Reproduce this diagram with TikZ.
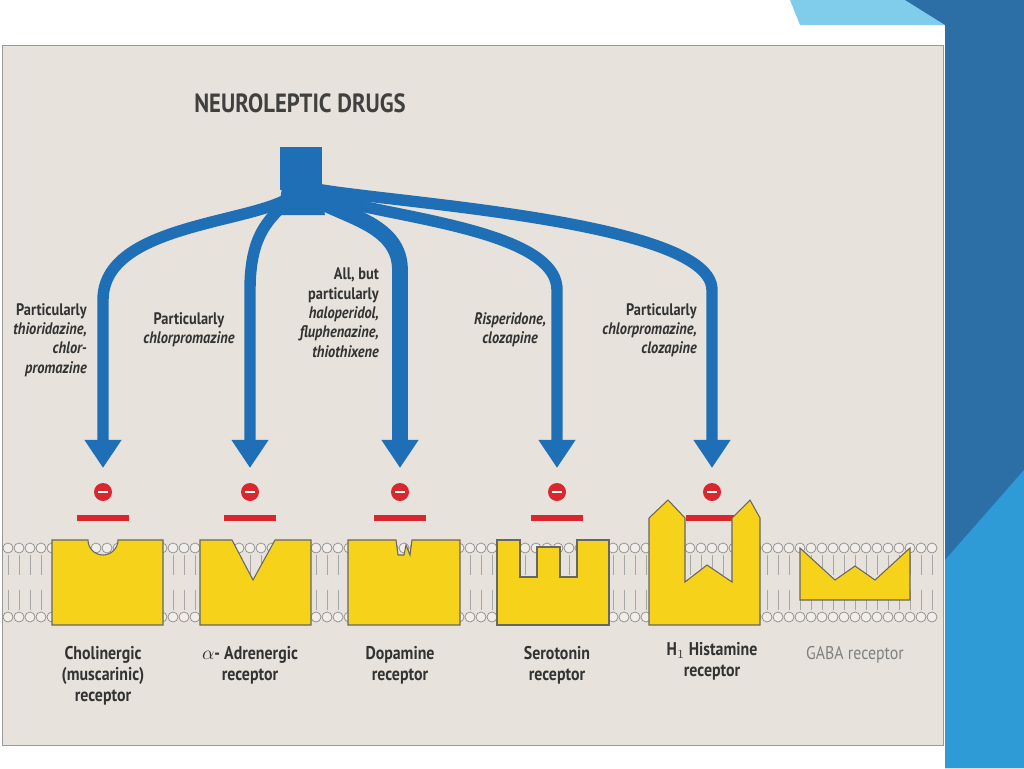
\documentclass[tikz,border=0pt]{standalone}
\usepackage{fontspec}
\setmainfont{PT Sans}[FakeStretch=0.86]
\usetikzlibrary{arrows.meta}
\definecolor{panel}{HTML}{E7E3DC}
\definecolor{drugblue}{HTML}{1E6FB5}
\definecolor{recyellow}{HTML}{F6D21A}
\definecolor{blockred}{HTML}{D8272E}
\definecolor{slidedark}{HTML}{2C6EA6}
\definecolor{slidelight}{HTML}{7FCDEB}
\definecolor{slidemid}{HTML}{2E9BD6}
\tikzset{
  branch/.style={drugblue, line width=6.5pt, -{Triangle[width=20pt,length=16pt]}},
  receptor/.style={fill=recyellow, draw=black!60, line width=0.6pt},
  druglabel/.style={font=\fontsize{9.5}{11}\selectfont\bfseries, text=black!80},
  reclabel/.style={font=\fontsize{10.5}{12}\selectfont\bfseries, text=black!80, align=center}
}
\begin{document}
\begin{tikzpicture}[x=0.02cm, y=-0.02cm]
    \useasboundingbox (0,0) rectangle (1024,768);
    \fill[white] (0,0) rectangle (1024,768);

    % slide decoration
    \fill[slidelight] (790,0) -- (905,0) -- (945,25) -- (800,25) -- cycle;
    \fill[slidedark] (905,0) -- (1024,0) -- (1024,768) -- (945,768) -- (945,25) -- cycle;
    \fill[slidemid] (945,560) -- (1024,470) -- (1024,768) -- (945,768) -- cycle;

    % panel
    \fill[panel] (2,45) rectangle (943,745);
    \draw[black!40] (2,45) rectangle (943,745);

    % title and trunk
    \node[font=\fontsize{15}{17}\selectfont\bfseries, text=black!75] (title) at (300,103) {NEUROLEPTIC DRUGS};
    \fill[drugblue] (280,147) rectangle (322,190);
    \coordinate (root) at (301,185);

    % branches
    \draw[branch] (root) .. controls (290,225) and (103,215) .. (103,300) -- (103,468) coordinate (a1);
    \draw[branch] (root) .. controls (280,215) and (250,220) .. (250,290) -- (250,468) coordinate (a2);
    \draw[branch, line width=9pt] (root) .. controls (320,215) and (400,215) .. (400,270) -- (400,468) coordinate (a3);
    \draw[branch] (root) .. controls (330,215) and (557,220) .. (557,290) -- (557,468) coordinate (a4);
    \draw[branch] (root) .. controls (330,200) and (712,215) .. (712,290) -- (712,468) coordinate (a5);
    \fill[drugblue] (283,180) -- (319,180) -- (325,215) -- (278,215) -- cycle;

    % drug labels
    \node[druglabel, align=right, anchor=north east] (l1) at (93,297) {Particularly\\\itshape thioridazine,\\\itshape chlor-\\\itshape promazine};
    \node[druglabel, align=center] (l2) at (189,330) {Particularly\\\itshape chlorpromazine};
    \node[druglabel, align=right, anchor=north east] (l3) at (385,262) {All, but\\particularly\\\itshape haloperidol,\\\itshape fluphenazine,\\\itshape thiothixene};
    \node[druglabel, align=center] (l4) at (510,330) {\itshape Risperidone,\\\itshape clozapine};
    \node[druglabel, align=right, anchor=north east] (l5) at (703,297) {Particularly\\\itshape chlorpromazine,\\\itshape clozapine};

    % inhibition marks
    \foreach \x in {103,250,400,557,712} {
      \fill[blockred] (\x,492) circle (9);
      \draw[white, line width=1.5pt] (\x-5,492) -- (\x+5,492);
      \fill[blockred] (\x-26,515) rectangle (\x+26,521);
    }

    % membrane
    \foreach \x in {8,19,...,940} {
      \draw[black!35] (\x,555) -- (\x,575) (\x,590) -- (\x,610);
      \draw[black!45, fill=panel!60!white] (\x,548) circle (5);
      \draw[black!45, fill=panel!60!white] (\x,617) circle (5);
    }

    % receptors
    \draw[receptor] (52,540) -- (88,540) arc (180:0:15) -- (163,540) -- (163,625) -- (52,625) -- cycle;
    \draw[receptor] (200,540) -- (232,540) -- (253,580) -- (275,540) -- (311,540) -- (311,625) -- (200,625) -- cycle;
    \draw[receptor] (348,540) -- (396,540) -- (398,555) -- (404,555) -- (406,545) -- (410,555) -- (412,540) -- (460,540) -- (460,625) -- (348,625) -- cycle;
    \draw[receptor] (497,540) -- (520,540) -- (520,577) -- (537,577) -- (537,547) -- (560,547) -- (560,577) -- (577,577) -- (577,540) -- (609,540) -- (609,625) -- (497,625) -- cycle;
    \draw[receptor] (649,625) -- (649,518) -- (668,500) -- (685,518) -- (685,582) -- (707,565) -- (732,582) -- (732,518) -- (750,500) -- (760,518) -- (760,625) -- cycle;
    \draw[receptor] (800,548) -- (835,580) -- (855,566) -- (875,580) -- (910,548) -- (910,600) -- (800,600) -- cycle;

    % receptor labels
    \node[reclabel, anchor=north] (r1) at (103,640) {Cholinergic\\(muscarinic)\\receptor};
    \node[reclabel, anchor=north] (r2) at (250,640) {$\alpha$- Adrenergic\\receptor};
    \node[reclabel, anchor=north] (r3) at (400,640) {Dopamine\\receptor};
    \node[reclabel, anchor=north] (r4) at (557,640) {Serotonin\\receptor};
    \node[reclabel, anchor=north] (r5) at (712,636) {H$_1$ Histamine\\receptor};
    \node[reclabel, anchor=north, font=\fontsize{10.5}{12}\selectfont, text=black!50] (r6) at (855,640) {GABA receptor};
\end{tikzpicture}
\end{document}
